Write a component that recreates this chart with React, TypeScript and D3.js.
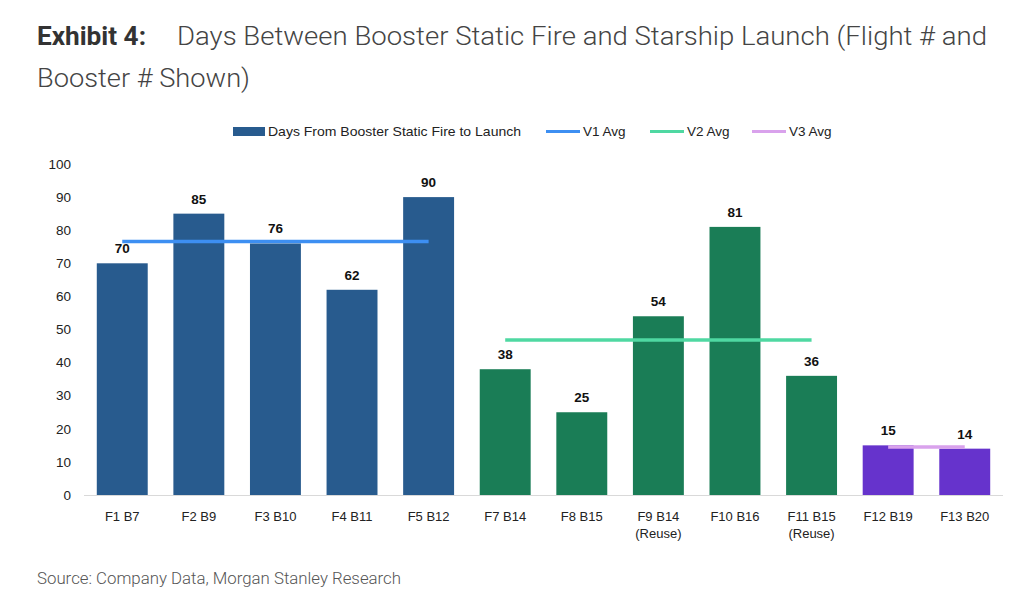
import React, { useEffect, useRef } from "react";
import * as d3 from "d3";

const categories: string[] = [
  "F1 B7|", "F2 B9|", "F3 B10|", "F4 B11|", "F5 B12|", "F7 B14|",
  "F8 B15|", "F9 B14|(Reuse)", "F10 B16|", "F11 B15|(Reuse)", "F12 B19|", "F13 B20|",
];
const days: number[] = [70, 85, 76, 62, 90, 38, 25, 54, 81, 36, 15, 14];
const versions: string[] = ["V1", "V1", "V1", "V1", "V1", "V2", "V2", "V2", "V2", "V2", "V3", "V3"];
const yTicks: number[] = [0, 10, 20, 30, 40, 50, 60, 70, 80, 90, 100];
const avgNames: string[] = ["V1", "V2", "V3"];
const legendLabels: string[] = ["Days From Booster Static Fire to Launch", "V1 Avg", "V2 Avg", "V3 Avg"];

const barColors: Record<string, string> = { V1: "#285B8E", V2: "#1A7D56", V3: "#6633CC" };
const avgColors: Record<string, string> = { V1: "#3D8FF2", V2: "#4FD8A2", V3: "#D9A2EC" };

export default function App() {
  const ref = useRef<SVGSVGElement>(null);

  useEffect(() => {
    document.body.style.margin = "0";
    const svg = d3.select(ref.current);
    svg.selectAll("*").remove();

    const font = "'Liberation Sans', Arial, sans-serif";
    const titleFont = "Roboto, 'Noto Sans', sans-serif";

    // Title
    svg.append("text").attr("x", 37).attr("y", 45).attr("font-family", titleFont)
      .attr("font-weight", 700).attr("font-size", 25).attr("fill", "#333")
      .attr("textLength", 109).attr("lengthAdjust", "spacingAndGlyphs").text("Exhibit 4:");
    svg.append("text").attr("x", 177).attr("y", 45).attr("font-family", titleFont)
      .attr("font-weight", 300).attr("font-size", 26).attr("fill", "#444")
      .attr("textLength", 810).attr("lengthAdjust", "spacingAndGlyphs")
      .text("Days Between Booster Static Fire and Starship Launch (Flight # and");
    svg.append("text").attr("x", 37).attr("y", 87).attr("font-family", titleFont)
      .attr("font-weight", 300).attr("font-size", 26).attr("fill", "#444")
      .attr("textLength", 213).attr("lengthAdjust", "spacingAndGlyphs")
      .text("Booster # Shown)");

    // Scales
    const x = d3.scaleBand<number>().domain(d3.range(days.length)).range([84, 1003]).paddingInner(0.335).paddingOuter(0.167);
    const y = d3.scaleLinear().domain([0, 100]).range([495, 164]);

    // Y ticks
    svg.append("g").selectAll("text").data(yTicks).join("text")
      .attr("x", 71).attr("y", (d) => y(d)).attr("dy", "0.35em").attr("text-anchor", "end")
      .attr("font-family", font).attr("font-size", 13.5).attr("fill", "#222").text((d) => String(d));

    // Bars
    svg.append("g").selectAll("rect").data(days).join("rect")
      .attr("x", (_, i) => x(i)!).attr("width", x.bandwidth())
      .attr("y", (d) => y(d)).attr("height", (d) => y(0) - y(d))
      .attr("fill", (_, i) => barColors[versions[i]]);

    // Baseline
    svg.append("line").attr("x1", 84).attr("x2", 1003).attr("y1", y(0) + 0.5).attr("y2", y(0) + 0.5)
      .attr("stroke", "#d9d9d9").attr("stroke-width", 1);

    // Average lines
    avgNames.forEach((v) => {
      const idx = d3.range(days.length).filter((i) => versions[i] === v);
      const avg = d3.mean(idx, (i) => days[i])!;
      const line = d3.line<number>().x((i) => x(i)! + x.bandwidth() / 2).y(() => y(avg));
      svg.append("path").attr("d", line([idx[0], idx[idx.length - 1]]))
        .attr("stroke", avgColors[v]).attr("stroke-width", 3.5).attr("fill", "none");
    });

    // Data labels
    svg.append("g").selectAll("text").data(days).join("text")
      .attr("x", (_, i) => x(i)! + x.bandwidth() / 2).attr("y", (d) => y(d) - 10)
      .attr("text-anchor", "middle").attr("font-family", font).attr("font-weight", 700)
      .attr("font-size", 13.5).attr("fill", "#111").text((d) => String(d));

    // X labels
    const xl = svg.append("g").selectAll("text").data(categories).join("text")
      .attr("x", (_, i) => x(i)! + x.bandwidth() / 2).attr("y", 521)
      .attr("text-anchor", "middle").attr("font-family", font).attr("font-size", 13).attr("fill", "#222");
    xl.each(function (d) {
      const parts = d.split("|");
      const t = d3.select(this);
      t.append("tspan").attr("x", t.attr("x")).attr("dy", 0).text(parts[0]);
      if (parts[1]) t.append("tspan").attr("x", t.attr("x")).attr("dy", 17).text(parts[1]);
    });

    // Legend
    const lg = svg.append("g").attr("font-family", font).attr("font-size", 13.5).attr("fill", "#222");
    lg.append("rect").attr("x", 233).attr("y", 127).attr("width", 32).attr("height", 9).attr("fill", barColors.V1);
    lg.append("text").attr("x", 268).attr("y", 136).attr("textLength", 253).attr("lengthAdjust", "spacingAndGlyphs").text(legendLabels[0]);
    const lineLegendX = [546, 650, 752];
    avgNames.forEach((v, i) => {
      lg.append("line").attr("x1", lineLegendX[i]).attr("x2", lineLegendX[i] + 34)
        .attr("y1", 131.5).attr("y2", 131.5).attr("stroke", avgColors[v]).attr("stroke-width", 3);
      lg.append("text").attr("x", lineLegendX[i] + 37).attr("y", 136).text(legendLabels[i + 1]);
    });

    // Source
    svg.append("text").attr("x", 37).attr("y", 584).attr("font-family", titleFont)
      .attr("font-weight", 300).attr("font-size", 16).attr("fill", "#555")
      .attr("textLength", 364).attr("lengthAdjust", "spacingAndGlyphs")
      .text("Source: Company Data, Morgan Stanley Research");
  }, []);

  return <svg ref={ref} width={1024} height={605} style={{ display: "block", background: "#fff" }} />;
}
